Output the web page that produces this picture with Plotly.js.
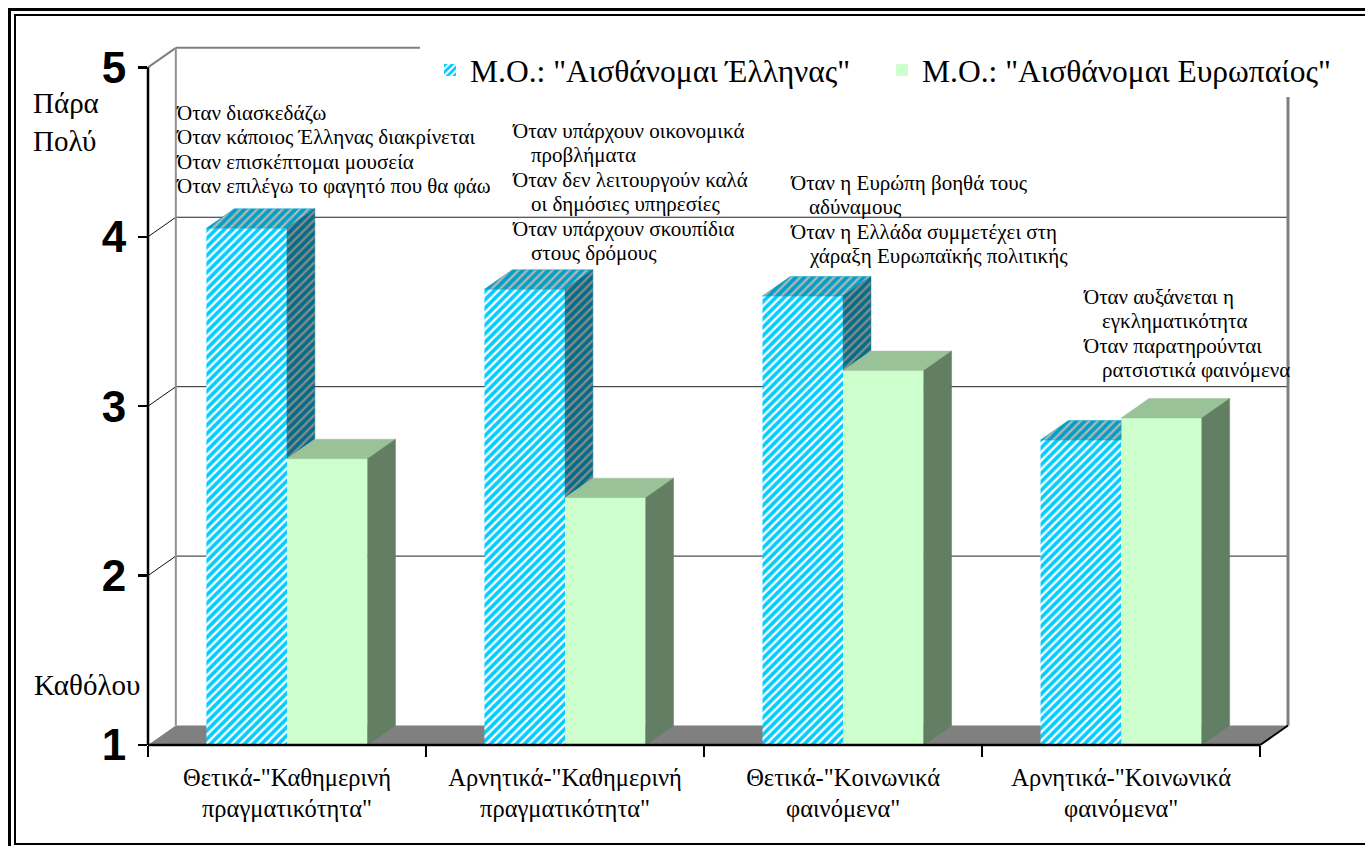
<!DOCTYPE html>
<html>
<head>
<meta charset="utf-8">
<script src="https://cdn.plot.ly/plotly-3.0.1.min.js"></script>
<style>
  html, body { margin:0; padding:0; background:#fff; overflow:hidden; }
  #chart { width:1365px; height:846px; }
  .frame { position:absolute; pointer-events:none; box-sizing:border-box; }
</style>
</head>
<body>
<div id="chart"></div>
<div class="frame" style="left:8px; top:8px; width:1380px; height:860px; border:3px solid #000;"></div>
<div class="frame" style="left:14px; top:14px; width:1370px; height:831px; border:2px solid #000;"></div>
<script>
// ---------- data ----------
const categories = [
  'Θετικά-"Καθημερινή<br>πραγματικότητα"',
  'Αρνητικά-"Καθημερινή<br>πραγματικότητα"',
  'Θετικά-"Κοινωνικά<br>φαινόμενα"',
  'Αρνητικά-"Κοινωνικά<br>φαινόμενα"'
];
const seriesNames = ['Μ.Ο.: "Αισθάνομαι Έλληνας"', 'Μ.Ο.: "Αισθάνομαι Ευρωπαίος"'];
const greekValues = [4.05, 3.69, 3.65, 2.80];
const europeanValues = [2.69, 2.46, 3.21, 2.93];
const yTickVals = [1, 2, 3, 4, 5];
const yTickText = ['1', '2', '3', '4', '5'];
const scaleTopLabel = 'Πάρα<br>Πολύ';
const scaleBottomLabel = 'Καθόλου';
const notes = [
  [["Όταν διασκεδάζω"], ["Όταν κάποιος Έλληνας διακρίνεται"], ["Όταν επισκέπτομαι μουσεία"], ["Όταν επιλέγω το φαγητό που θα φάω"]],
  [["Όταν υπάρχουν οικονομικά", "προβλήματα"], ["Όταν δεν λειτουργούν καλά", "οι δημόσιες υπηρεσίες"], ["Όταν υπάρχουν σκουπίδια", "στους δρόμους"]],
  [["Όταν η Ευρώπη βοηθά τους", "αδύναμους"], ["Όταν η Ελλάδα συμμετέχει στη", "χάραξη Ευρωπαϊκής πολιτικής"]],
  [["Όταν αυξάνεται η", "εγκληματικότητα"], ["Όταν παρατηρούνται", "ρατσιστικά φαινόμενα"]]
];

// ---------- geometry ----------
const SERIF = '"Liberation Serif", "Times New Roman", Times, serif';
const SANS = '"Liberation Sans", Arial, sans-serif';
const M = {l:148, r:77, t:47, b:101};
const XR = [0, 4.1], YR = [1, 5.12];
const DX = 0.1, DY = 0.115;   // 3D depth offset in data units
const BW = 0.29;              // bar width
const plotW = 1365 - M.l - M.r, plotH = 846 - M.t - M.b;
const px = v => (v - XR[0]) / (XR[1] - XR[0]);   // data x -> paper
const py = v => (v - YR[0]) / (YR[1] - YR[0]);   // data y -> paper
const ppx = p => (p - M.l) / plotW;                // pixel x -> paper
const ppy = p => (846 - M.b - p) / plotH;          // pixel y -> paper

const catX = categories.map((_, i) => i + 0.5);
const base = YR[0];

const C = {
  bFront:'#00CCFF', bTop:'#00A0C6', bSide:'#006E8A',
  gFront:'#CCFFCC', gTop:'#99C299', gSide:'#637F63'
};

function polyTrace(polys, fill, pattern) {
  const x = [], y = [];
  polys.forEach(p => { p.forEach(pt => { x.push(pt[0]); y.push(pt[1]); }); x.push(p[0][0]); y.push(p[0][1]); x.push(null); y.push(null); });
  const t = {type:'scatter', mode:'lines', x, y, fill:'toself', fillcolor:fill,
    line:{width:0.5, color:fill}, hoverinfo:'skip', showlegend:false, connectgaps:false};
  if (pattern) t.fillpattern = pattern;
  return t;
}

const bTops = [], bSides = [], gTops = [], gSides = [];
catX.forEach((c, i) => {
  const vb = greekValues[i], vg = europeanValues[i];
  const L = c - BW, R = c, R2 = c + BW;
  if (vg > vb) bTops.push([[L, vb], [R, vb], [R, vb + DY], [L + DX, vb + DY]]);
  else bTops.push([[L, vb], [R, vb], [R + DX, vb + DY], [L + DX, vb + DY]]);
  if (vb > vg) bSides.push([[R, vg], [R, vb], [R + DX, vb + DY], [R + DX, vg + DY]]);
  gTops.push([[R, vg], [R2, vg], [R2 + DX, vg + DY], [R + DX, vg + DY]]);
  gSides.push([[R2, base], [R2, vg], [R2 + DX, vg + DY], [R2 + DX, base + DY]]);
});

const traces = [
  {type:'bar', name:seriesNames[0], legend:'legend', x:catX, y:greekValues.map(v => v - base), base:base,
   width:BW, offset:-BW, hoverinfo:'skip',
   marker:{color:C.bFront, line:{width:0},
     pattern:{shape:'/', bgcolor:C.bFront, fgcolor:'#FFFFFF', size:6, solidity:0.4}}},
  {type:'bar', name:seriesNames[1], legend:'legend2', x:catX, y:europeanValues.map(v => v - base), base:base,
   width:BW, offset:0, hoverinfo:'skip',
   marker:{color:C.gFront, line:{width:0}}},
  polyTrace(bTops, C.bTop, {shape:'/', bgcolor:C.bTop, fgcolor:'#B4B4B4', size:6, solidity:0.4}),
  polyTrace(bSides, C.bSide, {shape:'/', bgcolor:C.bSide, fgcolor:'#8A8A8A', size:6, solidity:0.4}),
  polyTrace(gTops, C.gTop),
  polyTrace(gSides, C.gSide)
];

// ---------- shapes (walls, floor, axes) ----------
const shapes = [];
const P = (o) => Object.assign({xref:'paper', yref:'paper'}, o);
shapes.push(P({type:'path', layer:'below', fillcolor:'#808080', line:{width:0},
  path:`M0,0 L${px(4)},0 L${px(4+DX)},${py(base+DY)} L${px(DX)},${py(base+DY)} Z`}));
[2, 3, 4].forEach(v => {
  shapes.push(P({type:'line', layer:'below', x0:px(DX), x1:px(XR[1]), y0:py(v+DY), y1:py(v+DY), line:{color:'#222', width:1}}));
  shapes.push(P({type:'line', layer:'below', x0:px(0), x1:px(DX), y0:py(v), y1:py(v+DY), line:{color:'#111', width:1}}));
});
shapes.push(P({type:'line', layer:'below', x0:px(0), x1:px(DX), y0:py(5), y1:py(5+DY), line:{color:'#808080', width:2}}));
shapes.push(P({type:'line', layer:'below', x0:px(DX), x1:ppx(420), y0:py(5+DY), y1:py(5+DY), line:{color:'#808080', width:2}}));
shapes.push(P({type:'line', layer:'below', x0:px(DX), x1:px(DX), y0:py(base+DY), y1:py(5+DY), line:{color:'#909090', width:2}}));
shapes.push(P({type:'line', layer:'below', x0:px(XR[1]), x1:px(XR[1]), y0:py(base+DY), y1:ppy(95), line:{color:'#808080', width:3}}));
shapes.push(P({type:'line', layer:'above', x0:0, x1:0, y0:py(1), y1:py(5), line:{color:'#000', width:2.5}}));
shapes.push(P({type:'line', layer:'above', x0:0, x1:px(4), y0:py(1), y1:py(1), line:{color:'#000', width:2.5}}));
shapes.push(P({type:'line', layer:'above', x0:px(4), x1:px(4+DX), y0:py(1), y1:py(1+DY), line:{color:'#000', width:2}}));

// ---------- annotations ----------
const annotations = [];
const noteStart = [[176, 113], [512, 131], [790, 183], [1083, 297]];
const lineStep = 24.4, indent = 19;
notes.forEach((grp, gi) => {
  let k = 0;
  grp.forEach(item => {
    item.forEach((line, li) => {
      annotations.push({xref:'paper', yref:'paper', x:ppx(noteStart[gi][0] + (li ? indent : 0) - 2),
        y:ppy(noteStart[gi][1] + k * lineStep), xanchor:'left', yanchor:'middle', showarrow:false,
        text:line, font:{family:SERIF, size:21, color:'#000'}});
      k++;
    });
  });
});
annotations.push({xref:'paper', yref:'paper', x:ppx(31), y:ppy(122), xanchor:'left', yanchor:'middle',
  showarrow:false, align:'left', text:scaleTopLabel, font:{family:SERIF, size:29, color:'#000'}});
annotations.push({xref:'paper', yref:'paper', x:ppx(32), y:ppy(685), xanchor:'left', yanchor:'middle',
  showarrow:false, text:scaleBottomLabel, font:{family:SERIF, size:29, color:'#000'}});

const legendBase = {orientation:'h', y:ppy(70), xanchor:'left', yanchor:'middle',
  bgcolor:'#fff', borderwidth:0, font:{family:SERIF, size:31.5, color:'#000'}};

const layout = {
  width:1365, height:846, margin:M, paper_bgcolor:'#fff', plot_bgcolor:'rgba(0,0,0,0)',
  barmode:'overlay', showlegend:true, hovermode:false,
  xaxis:{range:XR, tickmode:'array', tickvals:catX, ticktext:categories, ticks:'',
    showgrid:false, zeroline:false, showline:false, ticklabelstandoff:15,
    tickfont:{family:SERIF, size:24.5, color:'#000'},
    minor:{tickmode:'array', tickvals:[0, 1, 2, 3, 4], ticks:'outside', ticklen:11, tickwidth:2.5, tickcolor:'#000', showgrid:false}},
  yaxis:{range:YR, tickmode:'array', tickvals:yTickVals, ticktext:yTickText, ticks:'outside',
    ticklen:9, tickwidth:2.5, tickcolor:'#000', showgrid:false, zeroline:false, showline:false,
    ticklabelstandoff:3,
    tickfont:{family:SANS, size:44, color:'#000', weight:'bold'}},
  legend:Object.assign({x:ppx(430)}, legendBase),
  legend2:Object.assign({x:ppx(882)}, legendBase),
  shapes, annotations
};

Plotly.newPlot('chart', traces, layout, {displayModeBar:false, staticPlot:true});
</script>
</body>
</html>
